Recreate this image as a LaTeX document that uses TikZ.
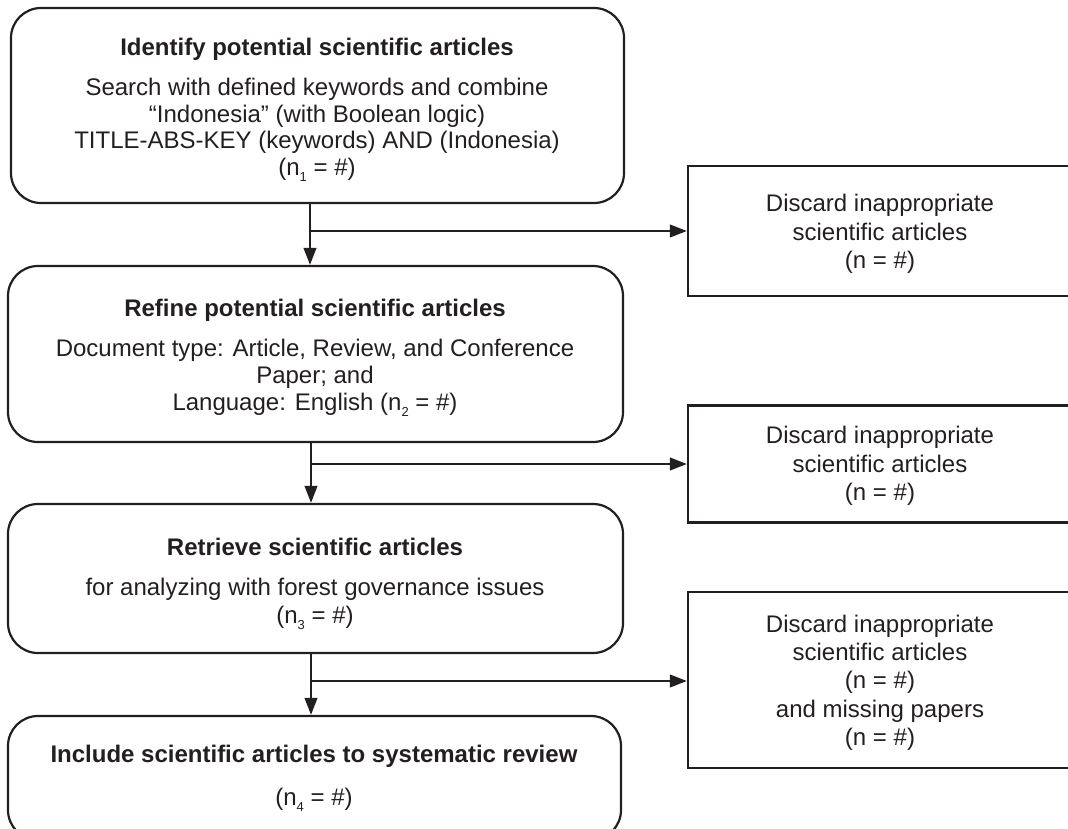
\documentclass[tikz,border=0pt]{standalone}
\usepackage{fontspec}
\setmainfont{Liberation Sans}
\usetikzlibrary{arrows.meta}
\definecolor{ink}{HTML}{231F20}
\newcommand\subn[1]{\raisebox{-0.55ex}{\fontsize{13}{13}\selectfont #1}}
\begin{document}
\begin{tikzpicture}[x=1pt,y=-1pt,
  every node/.style={text=ink},
  rbox/.style={draw=ink, line width=2.2pt, rounded corners=30pt, inner sep=0pt},
  sbox/.style={draw=ink, line width=2.2pt, inner sep=0pt},
  ttl/.style={anchor=base, inner sep=0pt, font=\fontsize{24}{26}\selectfont\bfseries},
  txt/.style={anchor=base, inner sep=0pt, font=\fontsize{24}{26}\selectfont},
  conn/.style={draw=ink, line width=2.4pt},
  arr/.style={conn, -{Triangle[length=17pt,width=12.5pt]}}]
\clip (0,0) rectangle (1068,828);
\useasboundingbox (0,0) rectangle (1068,828);

% main boxes
\node[rbox, minimum width=613pt, minimum height=195pt] (b1) at (317.5,105.5) {};
\node[rbox, minimum width=615pt, minimum height=176pt] (b2) at (315.5,354) {};
\node[rbox, minimum width=615pt, minimum height=149pt] (b3) at (315.5,578.5) {};
\node[rbox, minimum width=613pt, minimum height=124pt] (b4) at (314.5,778) {};

% side boxes
\node[sbox, minimum width=384pt, minimum height=130pt] (r1) at (880,231) {};
\node[sbox, minimum width=384pt, minimum height=117pt] (r2) at (880,464) {};
\node[sbox, minimum width=384pt, minimum height=176pt] (r3) at (880,680) {};

% texts box 1
\node[ttl] (t1a) at (317,55) {Identify potential scientific articles};
\node[txt] (t1b) at (317,95) {Search with defined keywords and combine};
\node[txt] (t1c) at (317,122) {“Indonesia” (with Boolean logic)};
\node[txt] (t1d) at (317,148) {TITLE-ABS-KEY (keywords) AND (Indonesia)};
\node[txt] (t1e) at (317,175) {(n\subn{1} = \#)};

% texts box 2
\node[ttl] (t2a) at (315,316) {Refine potential scientific articles};
\node[txt] (t2b) at (315,356) {Document type: Article, Review, and Conference};
\node[txt] (t2c) at (315,383) {Paper; and};
\node[txt] (t2d) at (315,410) {Language: English (n\subn{2} = \#)};

% texts box 3
\node[ttl] (t3a) at (315,555) {Retrieve scientific articles};
\node[txt] (t3b) at (315,595) {for analyzing with forest governance issues};
\node[txt] (t3c) at (315,623) {(n\subn{3} = \#)};

% texts box 4
\node[ttl] (t4a) at (314,762) {Include scientific articles to systematic review};
\node[txt] (t4b) at (314,805) {(n\subn{4} = \#)};

% side texts
\node[txt] (s1a) at (880,211) {Discard inappropriate};
\node[txt] (s1b) at (880,240) {scientific articles};
\node[txt] (s1c) at (880,268) {(n = \#)};

\node[txt] (s2a) at (880,443) {Discard inappropriate};
\node[txt] (s2b) at (880,472) {scientific articles};
\node[txt] (s2c) at (880,500) {(n = \#)};

\node[txt] (s3a) at (880,632) {Discard inappropriate};
\node[txt] (s3b) at (880,660) {scientific articles};
\node[txt] (s3c) at (880,688) {(n = \#)};
\node[txt] (s3d) at (880,717) {and missing papers};
\node[txt] (s3e) at (880,745) {(n = \#)};

% junctions
\coordinate (j1) at (310,231);
\coordinate (j2) at (311,464);
\coordinate (j3) at (311,681);

% connectors
\draw[arr] (b1.south -| j1) -- (b2.north -| j1);
\draw[arr] (j1) -- (j1 -| r1.west);
\draw[arr] (b2.south -| j2) -- (b3.north -| j2);
\draw[arr] (j2) -- (j2 -| r2.west);
\draw[arr] (b3.south -| j3) -- (b4.north -| j3);
\draw[arr] (j3) -- (j3 -| r3.west);
\end{tikzpicture}
\end{document}
